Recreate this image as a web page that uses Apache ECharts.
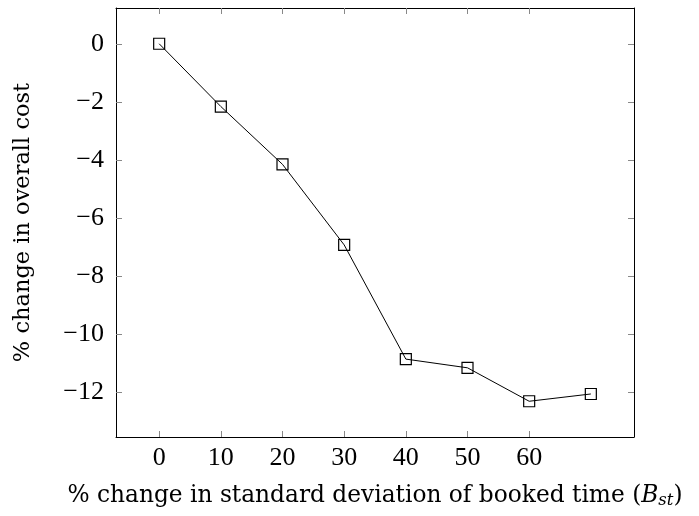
<!DOCTYPE html>
<html>
<head>
<meta charset="utf-8">
<script src="https://cdn.jsdelivr.net/npm/echarts@6/dist/echarts.min.js"></script>
<style>
  html, body { margin: 0; padding: 0; background: #fff; }
  #canvas { width: 699px; height: 516px; }
</style>
</head>
<body>
<div id="canvas"></div>
<script>
// x: % change in std deviation of booked time, y: % change in overall cost
var xValues = [0, 10, 20, 30, 40, 50, 60, 70];
var yValues = [0, -2.16, -4.15, -6.92, -10.85, -11.15, -12.3, -12.05];
var xTicks = [0, 10, 20, 30, 40, 50, 60];
var yTicks = [0, -2, -4, -6, -8, -10, -12];

var tickFont = "'Liberation Serif', serif";
var titleFont = "'DejaVu Serif', serif";

var myChart = echarts.init(document.getElementById("canvas"));

var points = xValues.map(function (x, i) {
    return [x, yValues[i]];
});

function minus(v) {
    return String(v).replace('-', '\u2212');
}

var tickLine = { color: '#888', width: 1 };
var frameLine = { color: '#000', width: 1 };

option = {
    animation: false,
    grid: {
        left: 116,
        right: 65,
        top: 8,
        bottom: 79
    },
    xAxis: [{
        type: 'value',
        min: -7,
        max: 77,
        position: 'bottom',
        name: '% change in standard deviation of booked time ({i|B}{s|st})',
        nameLocation: 'middle',
        nameGap: 45,
        nameTextStyle: {
            fontFamily: titleFont,
            fontSize: 23.3,
            color: '#000',
            rich: {
                i: { fontFamily: titleFont, fontSize: 23.3, fontStyle: 'italic', color: '#000' },
                s: { fontFamily: titleFont, fontSize: 16.5, fontStyle: 'italic', color: '#000', padding: [10, 0, 0, 0] }
            }
        },
        splitLine: { show: false },
        axisLine: { show: true, onZero: false, lineStyle: frameLine },
        axisTick: { show: true, inside: true, length: 6, customValues: xTicks, lineStyle: tickLine },
        axisLabel: {
            customValues: xTicks,
            fontFamily: tickFont,
            fontSize: 26,
            color: '#000',
            margin: 8
        }
    }, {
        type: 'value',
        min: -7,
        max: 77,
        position: 'top',
        splitLine: { show: false },
        axisLine: { show: true, onZero: false, lineStyle: frameLine },
        axisTick: { show: true, inside: true, length: 6, customValues: xTicks, lineStyle: tickLine },
        axisLabel: { show: false }
    }],
    yAxis: [{
        type: 'value',
        min: -13.53,
        max: 1.23,
        position: 'left',
        name: '% change in overall cost',
        nameLocation: 'middle',
        nameGap: 81,
        nameTextStyle: {
            fontFamily: titleFont,
            fontSize: 22.5,
            color: '#000'
        },
        splitLine: { show: false },
        axisLine: { show: true, onZero: false, lineStyle: frameLine },
        axisTick: { show: true, inside: true, length: 6, customValues: yTicks, lineStyle: tickLine },
        axisLabel: {
            customValues: yTicks,
            formatter: minus,
            fontFamily: tickFont,
            fontSize: 26,
            color: '#000',
            margin: 12
        }
    }, {
        type: 'value',
        min: -13.53,
        max: 1.23,
        position: 'right',
        splitLine: { show: false },
        axisLine: { show: true, onZero: false, lineStyle: frameLine },
        axisTick: { show: true, inside: true, length: 6, customValues: yTicks, lineStyle: tickLine },
        axisLabel: { show: false }
    }],
    series: [{
        type: 'line',
        data: points,
        xAxisIndex: 0,
        yAxisIndex: 0,
        symbol: 'rect',
        symbolSize: 11,
        showAllSymbol: true,
        lineStyle: { color: '#000', width: 1 },
        itemStyle: {
            color: 'rgba(0,0,0,0)',
            borderColor: '#000',
            borderWidth: 1.2
        }
    }]
};

myChart.setOption(option);
</script>
</body>
</html>
